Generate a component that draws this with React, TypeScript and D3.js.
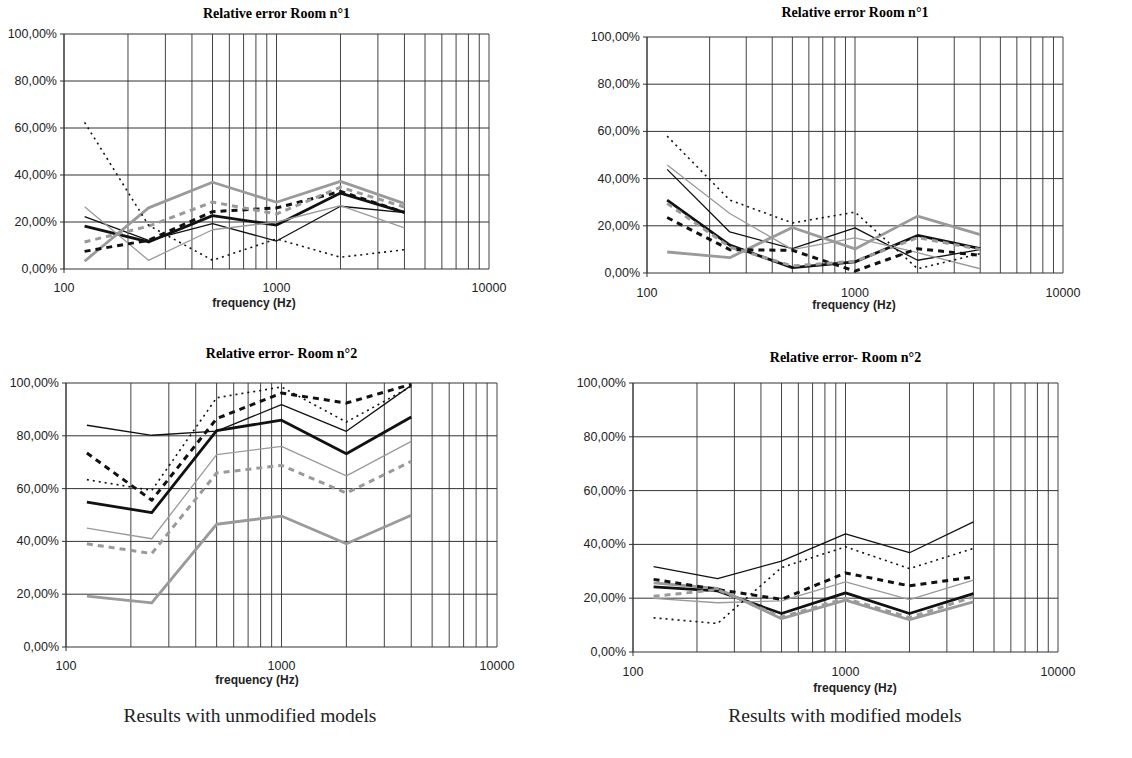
import React from "react";
import * as d3 from "d3";

// octave band centres (Hz)
const freqs = [125, 250, 500, 1000, 2000, 4000];
const yTicks = [0, 0.2, 0.4, 0.6, 0.8, 1];
const xLabelTicks = [100, 1000, 10000];

// series order: thin black, thick black, thin grey, thick grey, black dashed, grey dashed, black dotted
const room1Unmodified = [
  [22.3, 12.2, 19.3, 11.9, 26.7, 24],
  [18.2, 11.5, 22.7, 18.7, 32.3, 24.1],
  [26.5, 3.7, 16.7, 20, 27, 17.5],
  [3.3, 26, 36.9, 28.4, 37.3, 27.8],
  [7.5, 12.2, 24.4, 26, 33, 24.1],
  [11.5, 18.2, 28.5, 23.4, 34.8, 26.4],
  [62.4, 18.6, 3.7, 12.8, 5, 8.2],
];
const room1Modified = [
  [43.9, 17.4, 10.3, 19.1, 5.4, 9.9],
  [30.9, 11.8, 2.3, 4.7, 15.9, 10.3],
  [45.8, 25.2, 9.9, 14.9, 8.6, 1.8],
  [8.9, 6.5, 19.3, 10.2, 24.1, 16.3],
  [23.5, 9.9, 9.6, 0.8, 10.3, 7.5],
  [29.5, 11, 3, 5, 15, 10],
  [58, 30.9, 21.2, 25.8, 1.8, 8.2],
];
const room2Unmodified = [
  [84, 80.2, 81.8, 91.8, 81.7, 99.1],
  [54.9, 50.9, 82, 85.9, 73.2, 87.1],
  [45, 41, 72.9, 76, 64.8, 77.9],
  [19.3, 16.7, 46.5, 49.6, 39.1, 49.9],
  [73.5, 55.6, 86.5, 96.2, 92.4, 99.5],
  [39.1, 35.4, 65.9, 68.8, 58.3, 70.3],
  [63.4, 59.3, 94.4, 98.5, 85.2, 98.7],
];
const room2Modified = [
  [31.7, 27.3, 33.8, 43.9, 36.9, 48.4],
  [24.2, 22.7, 14.3, 22, 14.3, 21.7],
  [19.9, 18.3, 19, 26.1, 19.5, 26.7],
  [25.7, 23.6, 12.4, 19.3, 12, 18.6],
  [27, 23.2, 19.6, 29.4, 24.6, 27.9],
  [20.7, 23.2, 13, 19.9, 12.8, 20.5],
  [12.7, 10.6, 31.4, 39.1, 31, 38.5],
];

const seriesStyles = [
  { color: "#111", width: 1.3, dash: "none" },
  { color: "#111", width: 2.8, dash: "none" },
  { color: "#9a9a9a", width: 1.3, dash: "none" },
  { color: "#9a9a9a", width: 2.8, dash: "none" },
  { color: "#111", width: 3, dash: "6,5" },
  { color: "#9a9a9a", width: 3, dash: "6,5" },
  { color: "#111", width: 1.6, dash: "2,4" },
];

const sans = "'Liberation Sans', Arial, sans-serif";
const serif = "'Liberation Serif', 'Times New Roman', serif";
const pct = (v: number) => d3.format(".2f")(v * 100).replace(".", ",") + "%";

function Panel({ data, title, left, right, top, bottom, titleY, tickY, labelX, labelY }) {
  const x = d3.scaleLog().domain([100, 10000]).range([left, right]);
  const y = d3.scaleLinear().domain([0, 1]).range([bottom, top]);
  const gridX: number[] = [];
  for (let d = 100; d <= 1000; d *= 10) for (let k = 1; k <= 10; k++) gridX.push(d * k);
  const line = d3
    .line<number>()
    .x((_, i) => x(freqs[i]))
    .y((v) => y(v / 100));
  return (
    <g>
      <text x={(left + right) / 2} y={titleY} textAnchor="middle" fontFamily={serif} fontWeight="bold" fontSize={14}>
        {title}
      </text>
      {Array.from(new Set(gridX)).map((f) => (
        <line key={"gx" + f} x1={x(f)} x2={x(f)} y1={top} y2={bottom} stroke="#444" strokeWidth={1} />
      ))}
      {yTicks.map((t) => (
        <g key={"gy" + t}>
          <line x1={left - 4} x2={right} y1={y(t)} y2={y(t)} stroke="#333" strokeWidth={1} />
          <text x={left - 7} y={y(t) + 4} textAnchor="end" fontFamily={sans} fontSize={12.5} fill="#222">
            {pct(t)}
          </text>
        </g>
      ))}
      <line x1={left} x2={left} y1={top} y2={bottom + 4} stroke="#333" />
      {xLabelTicks.map((t) => (
        <text key={"xl" + t} x={x(t)} y={tickY} textAnchor="middle" fontFamily={sans} fontSize={12.5} fill="#222">
          {t}
        </text>
      ))}
      <text x={labelX} y={labelY} textAnchor="middle" fontFamily={sans} fontWeight="bold" fontSize={12} fill="#222">
        frequency (Hz)
      </text>
      {data.map((s, i) => (
        <path
          key={"s" + i}
          d={line(s) || ""}
          fill="none"
          stroke={seriesStyles[i].color}
          strokeWidth={seriesStyles[i].width}
          strokeDasharray={seriesStyles[i].dash}
          strokeLinejoin="round"
        />
      ))}
    </g>
  );
}

export default function App() {
  return (
    <svg width={1132} height={758} style={{ position: "absolute", left: 0, top: 0, background: "#fff" }}>
      <rect width={1132} height={758} fill="#fff" />
      <Panel data={room1Unmodified} title="Relative error Room n°1" left={64} right={489} top={34} bottom={269} titleY={18} tickY={292} labelX={254} labelY={307} />
      <Panel data={room1Modified} title="Relative error Room n°1" left={647} right={1063} top={37} bottom={273} titleY={17} tickY={297} labelX={854} labelY={309} />
      <Panel data={room2Unmodified} title="Relative error- Room n°2" left={66} right={497} top={383} bottom={647} titleY={358} tickY={670} labelX={257} labelY={684} />
      <Panel data={room2Modified} title="Relative error- Room n°2" left={633} right={1058} top={383} bottom={652} titleY={362} tickY={676} labelX={855} labelY={692} />
      <text x={250} y={722} textAnchor="middle" fontFamily={serif} fontSize={19.5} fill="#222">
        Results with unmodified models
      </text>
      <text x={845} y={722} textAnchor="middle" fontFamily={serif} fontSize={19.5} fill="#222">
        Results with modified models
      </text>
    </svg>
  );
}
